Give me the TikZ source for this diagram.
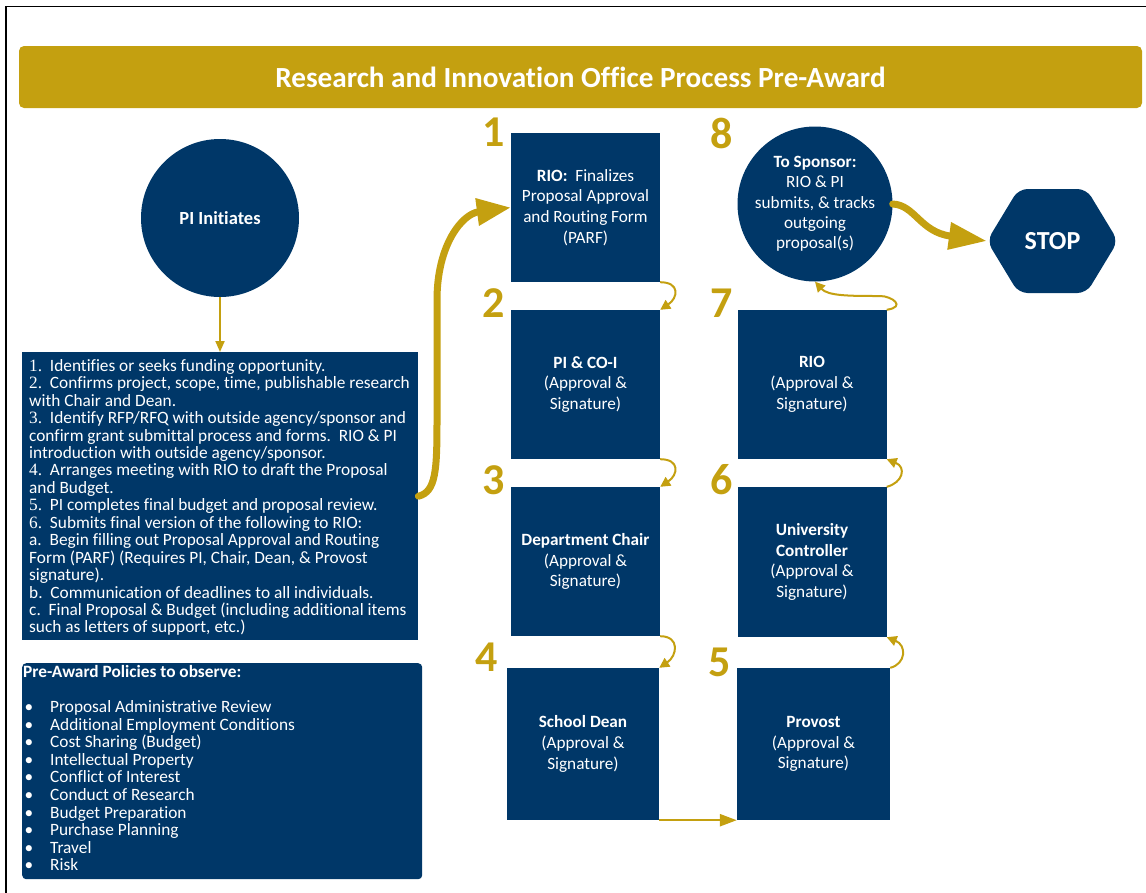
\documentclass[tikz,border=0pt]{standalone}
\usepackage{fontspec}
\setmainfont{Carlito}[Ligatures=NoCommon]
\newfontfamily\numfont{Liberation Serif}
\usetikzlibrary{arrows.meta,calc}
\definecolor{navy}{RGB}{0,55,104}
\definecolor{gold}{RGB}{196,160,16}
% numbered entry in the step list
\newcommand\stepno[1]{{\numfont #1.}\ \ }
% bullet entry in the policy list
\newcommand\pitem{\makebox[27pt][l]{\hspace{1.5pt}\textbullet}}
\begin{document}
\begin{tikzpicture}[x=1pt,y=-1pt,
  stepbox/.style={fill=navy, draw=none, minimum width=149pt, minimum height=149pt,
    inner sep=0pt, text=white, align=center, font=\fontsize{17.2}{20.7}\selectfont},
  num/.style={text=gold, inner sep=0pt, font=\fontsize{44}{44}\selectfont\bfseries},
  link/.style={draw=gold, line width=2pt, -{Triangle[length=10pt,width=10pt]}},
  bigarrow/.style={draw=gold, line width=7pt, line cap=round,
    -{Triangle[length=34pt,width=26pt]}},
  panel/.style={fill=navy, draw=none, inner sep=0pt, anchor=north west},
]
\useasboundingbox (0,0) rectangle (1146,892);
% page frame
\draw[line width=1.6pt] (6,6.5) rectangle (1170,920);

% title bar
\node[fill=gold, rounded corners=5pt, minimum width=1123pt, minimum height=62pt,
  inner sep=0pt, text=white, font=\fontsize{29.2}{32}\selectfont\bfseries]
  (title) at (580.5,77) {Research and Innovation Office Process Pre-Award};

% start
\node[circle, fill=navy, minimum size=158pt, inner sep=0pt, text=white,
  font=\fontsize{18.5}{22}\selectfont\bfseries] (pi) at (220,218) {PI Initiates};

% PI task list
\node[panel, minimum width=396pt, minimum height=288pt] (steps) at (22,352) {};
\node[anchor=north west, inner sep=0pt, align=left, text=white,
  font=\fontsize{17.3}{17.45}\selectfont] (stepstext) at (29,359) {%
\stepno{1}Identifies or seeks funding opportunity.\\
\stepno{2}Confirms project, scope, time, publishable research\\
with Chair and Dean.\\
\stepno{3}Identify RFP/RFQ with outside agency/sponsor and\\
confirm grant submittal process and forms.\ \ RIO \& PI\\
introduction with outside agency/sponsor.\\
\stepno{4}Arranges meeting with RIO to draft the Proposal\\
and Budget.\\
\stepno{5}PI completes final budget and proposal review.\\
\stepno{6}Submits final version of the following to RIO:\\
a.\ \ Begin filling out Proposal Approval and Routing\\
Form (PARF) (Requires PI, Chair, Dean, \& Provost\\
signature).\\
b.\ \ Communication of deadlines to all individuals.\\
c.\ \ Final Proposal \& Budget (including additional items\\
such as letters of support, etc.)};

% policies panel
\node[panel, rounded corners=4pt, minimum width=400pt, minimum height=216pt]
  (policies) at (22,663) {};
\node[anchor=north west, inner sep=0pt, align=left, text=white,
  font=\fontsize{17.3}{17.6}\selectfont] (policytext) at (23,665) {%
\textbf{Pre-Award Policies to observe:}\\
\strut\\
\pitem Proposal Administrative Review\\
\pitem Additional Employment Conditions\\
\pitem Cost Sharing (Budget)\\
\pitem Intellectual Property\\
\pitem Conflict of Interest\\
\pitem Conduct of Research\\
\pitem Budget Preparation\\
\pitem Purchase Planning\\
\pitem Travel\\
\pitem Risk};

% approval chain
\node[stepbox] (b1) at (585.5,207.5) {\textbf{RIO:}\ \ Finalizes\\Proposal Approval\\and Routing Form\\(PARF)};
\node[stepbox] (b2) at (585.5,384.5) {\textbf{PI \& CO-I}\\(Approval \&\\Signature)};
\node[stepbox] (b3) at (585.5,561.5) {\textbf{Department Chair}\\(Approval \&\\Signature)};
\node[stepbox, minimum width=152pt, minimum height=152pt] (b4) at (583,744) {\textbf{School Dean}\\(Approval \&\\Signature)};
\node[stepbox, minimum width=153pt, minimum height=152pt] (b5) at (813.5,744) {\textbf{Provost}\\(Approval \&\\Signature)};
\node[stepbox, minimum height=150pt] (b6) at (812,562) {\textbf{University}\\\textbf{Controller}\\(Approval \&\\Signature)};
\node[stepbox] (b7) at (812,384.5) {\textbf{RIO}\\(Approval \&\\Signature)};

\node[circle, fill=navy, minimum size=155pt, inner sep=0pt, text=white, align=center,
  font=\fontsize{17.2}{20.3}\selectfont] (s8) at (815,204)
  {\textbf{To Sponsor:}\\RIO \& PI\\submits, \& tracks\\outgoing\\proposal(s)};

% end
\coordinate (stopc) at (1052.5,241);
\fill[navy, rounded corners=9pt] ($(stopc)+(-65.5,0)$) -- ($(stopc)+(-34,-52)$)
  -- ($(stopc)+(34,-52)$) -- ($(stopc)+(65.5,0)$) -- ($(stopc)+(34,52)$)
  -- ($(stopc)+(-34,52)$) -- cycle;
\node[minimum width=131pt, minimum height=104pt, inner sep=0pt, text=white,
  font=\fontsize{26}{30}\selectfont\bfseries] (stop) at (stopc) {STOP};

% step numbers
\node[num] (n1) at (494,132) {1};
\node[num] (n2) at (494,303) {2};
\node[num] (n3) at (494,480) {3};
\node[num] (n4) at (487,657) {4};
\node[num] (n8) at (722,133) {8};
\node[num] (n7) at (722,303) {7};
\node[num] (n6) at (722,480) {6};
\node[num] (n5) at (720,662) {5};

% connectors
\draw[link, -{Triangle[length=11pt,width=9pt]}] (pi.south) -- (pi.south |- steps.north);
\draw[bigarrow] (steps.east) .. controls (436,492) and (437,470) .. (437,420)
  -- (437,300) .. controls (437,245) and (462,214) .. (b1.west);
\draw[link] (b1.south east) .. controls +(20,0) and +(18,-12) .. (b2.north east);
\draw[link] (b2.south east) .. controls +(20,0) and +(18,-12) .. (b3.north east);
\draw[link] (b3.south east) .. controls +(20,0) and +(18,-12) .. (b4.north east);
\draw[link, line width=2.5pt, -{Triangle[length=17pt,width=12pt]}] (b4.south east) -- (b5.south west);
\draw[link] (b5.north east) .. controls +(16,-4) and +(20,8) .. (b6.south east);
\draw[link] (b6.north east) .. controls +(16,-4) and +(20,8) .. (b7.south east);
\draw[link] (b7.north east) .. controls +(20,-3) and +(12,0) .. (880,296)
  .. controls (850,296) and (828,296) .. (s8.south);
\draw[bigarrow, -{Triangle[length=38pt,width=26pt]}] (s8.east) .. controls (915,205) and (920,232) .. (stop.west);
\end{tikzpicture}
\end{document}
